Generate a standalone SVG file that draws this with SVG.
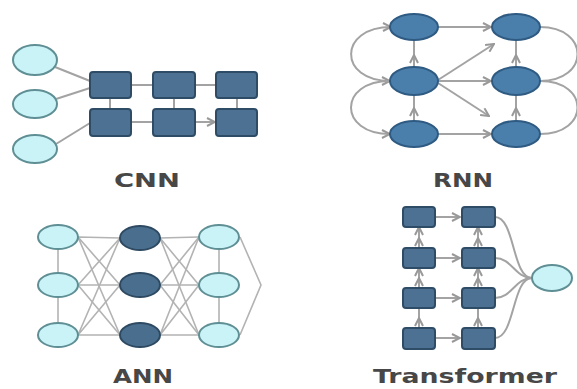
<svg xmlns="http://www.w3.org/2000/svg" width="577" height="389" viewBox="0 0 577 389">
<style>
.lt{fill:#c9f3f7;stroke:#5f8f94;stroke-width:2}
.sq{fill:#4d7193;stroke:#2f4c66;stroke-width:2}
.rn{fill:#4a7eab;stroke:#2f5b82;stroke-width:2}
.dk{fill:#4a6f8e;stroke:#2e4a62;stroke-width:2}
.ln{fill:none;stroke:#a3a3a3;stroke-width:2}
.an{fill:none;stroke:#b3b3b3;stroke-width:1.6}
.lb{font-family:"DejaVu Sans",sans-serif;font-weight:bold;font-size:19px;fill:#474747;text-anchor:middle}
</style>
<defs>
<marker id="ah" viewBox="0 0 10 10" refX="9" refY="5" markerWidth="5" markerHeight="5" orient="auto-start-reverse">
<path d="M1,1 L9,5 L1,9" fill="none" stroke="#999" stroke-width="2"/>
</marker>
</defs>
<rect width="577" height="389" fill="#fff"/>
<g id="connectors">
<path class="ln" d="M55,67 L90,81"/>
<path class="ln" d="M56,99 L90,88"/>
<path class="ln" d="M56,144 L90,123"/>
<path class="ln" d="M131,85 L153,85 M195,85 L216,85"/>
<path class="ln" d="M131,122 L153,122"/>
<path class="ln" d="M195,122 L215,122" marker-end="url(#ah)"/>
<path class="ln" d="M110,98 L110,109 M174,98 L174,109 M237,98 L237,109"/>
<path class="ln" d="M391,27 C338,27 338,81 390,81" marker-start="url(#ah)" marker-end="url(#ah)"/>
<path class="ln" d="M390,81 C338,81 338,134 390,134" marker-end="url(#ah)"/>
<path class="ln" d="M540,27 C590,27 590,81 540,81"/>
<path class="ln" d="M540,81 C590,81 590,134 540,134"/>
<path class="ln" d="M438,27 L491,27" marker-end="url(#ah)"/>
<path class="ln" d="M438,81 L491,81" marker-end="url(#ah)"/>
<path class="ln" d="M438,134 L491,134" marker-end="url(#ah)"/>
<path class="ln" d="M438,80 L494,44" marker-end="url(#ah)"/>
<path class="ln" d="M438,83 L489,116" marker-end="url(#ah)"/>
<path class="ln" d="M414,68 L414,55 L414,40" marker-mid="url(#ah)"/>
<path class="ln" d="M414,121 L414,108 L414,94" marker-mid="url(#ah)"/>
<path class="ln" d="M516,68 L516,55 L516,40" marker-mid="url(#ah)"/>
<path class="ln" d="M516,121 L516,108 L516,94" marker-mid="url(#ah)"/>
<g class="an">
<path d="M78,237 L120,238 M78,237 L120,285 M78,237 L120,335"/>
<path d="M78,285 L120,238 M78,285 L120,285 M78,285 L120,335"/>
<path d="M78,335 L120,238 M78,335 L120,285 M78,335 L120,335"/>
<path d="M160,238 L199,237 M160,238 L199,285 M160,238 L199,335"/>
<path d="M160,285 L199,237 M160,285 L199,285 M160,285 L199,335"/>
<path d="M160,335 L199,237 M160,335 L199,285 M160,335 L199,335"/>
<path d="M58,249 L58,273 M58,297 L58,323 M219,249 L219,273 M219,297 L219,323"/>
<path d="M240,237 L261,285 L240,335"/>
</g>
<path class="ln" d="M435,217 L460,217" marker-end="url(#ah)"/>
<path class="ln" d="M435,258 L460,258" marker-end="url(#ah)"/>
<path class="ln" d="M435,298 L460,298" marker-end="url(#ah)"/>
<path class="ln" d="M435,338 L460,338" marker-end="url(#ah)"/>
<path class="ln" d="M419,248 L419,238 L419,227 M419,288 L419,278 L419,268 M419,328 L419,318 L419,308" marker-mid="url(#ah)"/>
<path class="ln" d="M478,248 L478,238 L478,227 M478,288 L478,278 L478,268 M478,328 L478,318 L478,308" marker-mid="url(#ah)"/>
<path class="ln" d="M495,217 C515,217 512,278 532,278"/>
<path class="ln" d="M495,258 C512,258 515,278 532,278"/>
<path class="ln" d="M495,298 C512,298 515,278 532,278"/>
<path class="ln" d="M495,338 C515,338 512,278 532,278"/>
</g>
<g id="cnn">
<ellipse class="lt" cx="35" cy="60" rx="22" ry="15"/>
<ellipse class="lt" cx="35" cy="104" rx="22" ry="14"/>
<ellipse class="lt" cx="35" cy="149" rx="22" ry="14"/>
<rect class="sq" x="90" y="72" width="41" height="26" rx="3"/>
<rect class="sq" x="153" y="72" width="42" height="26" rx="3"/>
<rect class="sq" x="216" y="72" width="41" height="26" rx="3"/>
<rect class="sq" x="90" y="109" width="41" height="27" rx="3"/>
<rect class="sq" x="153" y="109" width="42" height="27" rx="3"/>
<rect class="sq" x="216" y="109" width="41" height="27" rx="3"/>
<text class="lb" x="147" y="187" textLength="66" lengthAdjust="spacingAndGlyphs">CNN</text>
</g>
<g id="rnn">
<ellipse class="rn" cx="414" cy="27" rx="24" ry="13"/>
<ellipse class="rn" cx="414" cy="81" rx="24" ry="14"/>
<ellipse class="rn" cx="414" cy="134" rx="24" ry="13"/>
<ellipse class="rn" cx="516" cy="27" rx="24" ry="13"/>
<ellipse class="rn" cx="516" cy="81" rx="24" ry="14"/>
<ellipse class="rn" cx="516" cy="134" rx="24" ry="13"/>
<text class="lb" x="463" y="187" textLength="60" lengthAdjust="spacingAndGlyphs">RNN</text>
</g>
<g id="ann">
<ellipse class="lt" cx="58" cy="237" rx="20" ry="12"/>
<ellipse class="lt" cx="58" cy="285" rx="20" ry="12"/>
<ellipse class="lt" cx="58" cy="335" rx="20" ry="12"/>
<ellipse class="dk" cx="140" cy="238" rx="20" ry="12"/>
<ellipse class="dk" cx="140" cy="285" rx="20" ry="12"/>
<ellipse class="dk" cx="140" cy="335" rx="20" ry="12"/>
<ellipse class="lt" cx="219" cy="237" rx="20" ry="12"/>
<ellipse class="lt" cx="219" cy="285" rx="20" ry="12"/>
<ellipse class="lt" cx="219" cy="335" rx="20" ry="12"/>
<text class="lb" x="143" y="383" textLength="60" lengthAdjust="spacingAndGlyphs">ANN</text>
</g>
<g id="transformer">
<rect class="sq" x="403" y="207" width="32" height="20" rx="3"/>
<rect class="sq" x="462" y="207" width="33" height="20" rx="3"/>
<rect class="sq" x="403" y="248" width="32" height="20" rx="3"/>
<rect class="sq" x="462" y="248" width="33" height="20" rx="3"/>
<rect class="sq" x="403" y="288" width="32" height="20" rx="3"/>
<rect class="sq" x="462" y="288" width="33" height="20" rx="3"/>
<rect class="sq" x="403" y="328" width="32" height="21" rx="3"/>
<rect class="sq" x="462" y="328" width="33" height="21" rx="3"/>
<ellipse class="lt" cx="552" cy="278" rx="20" ry="13"/>
<text class="lb" x="465" y="383" textLength="184" lengthAdjust="spacingAndGlyphs">Transformer</text>
</g>
</svg>
